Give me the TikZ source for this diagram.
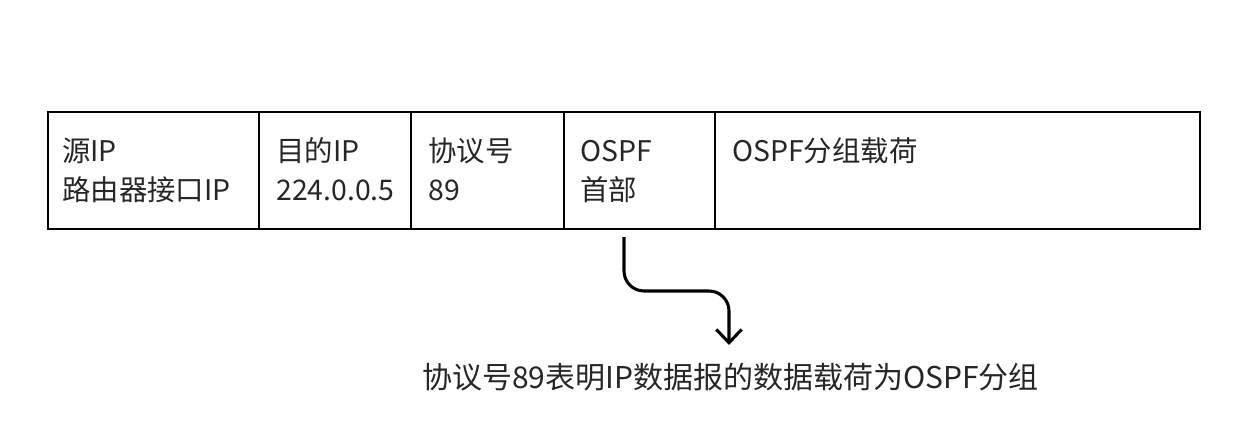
\documentclass[tikz,border=0pt]{standalone}
\usepackage{fontspec}
\setmainfont{Noto Sans CJK SC}
\usetikzlibrary{fit,calc,arrows.meta}
\tikzset{
  cell/.style={draw=black, line width=1.5pt, inner sep=0pt},
  txt/.style={anchor=base west, inner sep=0pt, font=\fontsize{21.3pt}{26pt}\selectfont, text=black!85},
  flow/.style={draw=black, line width=2.3pt, rounded corners=15pt, -{Straight Barb[length=10pt,width=19pt,line width=2.3pt]}}
}
\begin{document}
\begin{tikzpicture}[x=0.75pt,y=-0.75pt]
\useasboundingbox (0,0) rectangle (1250,446);
\node[cell, fit={(48,112) (259,229)}] (c1) {};
\node[cell, fit={(259,112) (411,229)}] (c2) {};
\node[cell, fit={(411,112) (564,229)}] (c3) {};
\node[cell, fit={(564,112) (715,229)}] (c4) {};
\node[cell, fit={(715,112) (1200,229)}] (c5) {};
\node[txt] (t1a) at (62,161) {源IP};
\node[txt] (t1b) at (62,200) {路由器接口IP};
\node[txt] (t2a) at (276,161) {目的IP};
\node[txt] (t2b) at (276,200) {224.0.0.5};
\node[txt] (t3a) at (428,161) {协议号};
\node[txt] (t3b) at (428,200) {89};
\node[txt] (t4a) at (580,161) {OSPF};
\node[txt] (t4b) at (580,200) {首部};
\node[txt] (t5a) at (732,161) {OSPF分组载荷};
\node[txt, anchor=base, font=\fontsize{22.5pt}{27pt}\selectfont] (lbl) at (730.5,388) {协议号89表明IP数据报的数据载荷为OSPF分组};
\coordinate (s) at (624,237);
\coordinate (t) at (729,345);
\draw[flow] (s) |- ($(s)!0.5!(t)$) -| (t);
\end{tikzpicture}
\end{document}
